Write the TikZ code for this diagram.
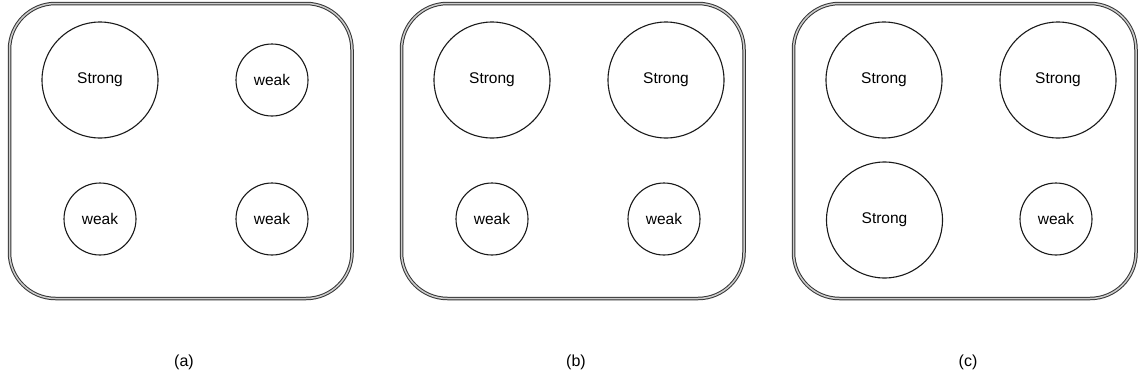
\documentclass[tikz,border=0pt]{standalone}
\usepackage{fontspec}
\setmainfont{Liberation Sans}
\begin{document}
\begin{tikzpicture}[x=1pt,y=-1pt,
  panel/.style={draw=black!80, line width=1pt, double=black!20, double distance=1.5pt, rounded corners=46pt},
  strongnode/.style={circle, draw=black!90, line width=1.1pt, minimum size=116pt, inner sep=0pt, font=\fontsize{15.5}{18}\selectfont},
  weaknode/.style={circle, draw=black!90, line width=1.1pt, minimum size=72pt, inner sep=0pt, font=\fontsize{15.5}{18}\selectfont},
  caption/.style={font=\fontsize{16}{19}\selectfont}]
\useasboundingbox (0,0) rectangle (1138,381);

% panel (a)
\draw[panel] (9.5,3.5) rectangle (352,298.5);
\node[strongnode] (a1) at (100,80) {Strong};
\node[weaknode]   (a2) at (272,80) {weak};
\node[weaknode]   (a3) at (100,219) {weak};
\node[weaknode]   (a4) at (272,219) {weak};
\node[caption]    (la) at (184,362) {(a)};

% panel (b)
\draw[panel] (401.5,3.5) rectangle (744,298.5);
\node[strongnode] (b1) at (492,80) {Strong};
\node[strongnode] (b2) at (666,80) {Strong};
\node[weaknode]   (b3) at (492,219) {weak};
\node[weaknode]   (b4) at (664,219) {weak};
\node[caption]    (lb) at (576,362) {(b)};

% panel (c)
\draw[panel] (793.5,3.5) rectangle (1136,298.5);
\node[strongnode] (c1) at (884,80) {Strong};
\node[strongnode] (c2) at (1058,80) {Strong};
\node[strongnode] (c3) at (884.5,220) {Strong};
\node[weaknode]   (c4) at (1056,219) {weak};
\node[caption]    (lc) at (968,362) {(c)};
\end{tikzpicture}
\end{document}
